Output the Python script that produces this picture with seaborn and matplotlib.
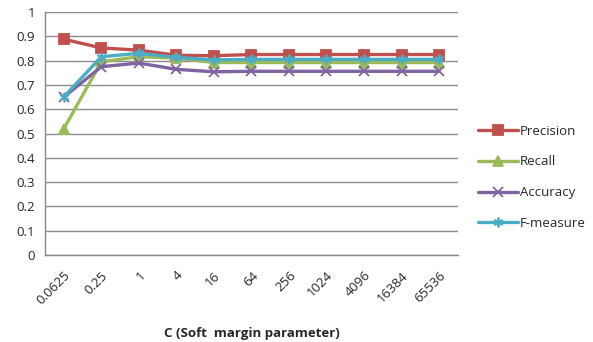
import numpy as np
import pandas as pd
import matplotlib
matplotlib.use("Agg")
import matplotlib.pyplot as plt
import seaborn as sns

# Chart data
c_values = ["0.0625", "0.25", "1", "4", "16", "64", "256", "1024", "4096", "16384", "65536"]
precision = [0.888, 0.852, 0.843, 0.822, 0.820, 0.825, 0.825, 0.825, 0.825, 0.825, 0.825]
recall = [0.52, 0.795, 0.816, 0.81, 0.792, 0.792, 0.792, 0.792, 0.792, 0.792, 0.792]
accuracy = [0.65, 0.775, 0.79, 0.764, 0.754, 0.756, 0.756, 0.756, 0.756, 0.756, 0.756]
f_measure = [0.651, 0.816, 0.83, 0.813, 0.803, 0.805, 0.805, 0.805, 0.805, 0.805, 0.805]

series = {"Precision": precision, "Recall": recall, "Accuracy": accuracy, "F-measure": f_measure}
colors = {"Precision": "#C0504D", "Recall": "#9BBB59", "Accuracy": "#8064A2", "F-measure": "#4BACC6"}
markers = {"Precision": "s", "Recall": "^", "Accuracy": "x", "F-measure": (6, 2, 0)}

df = pd.DataFrame(
    [(c, name, v) for name, vals in series.items() for c, v in zip(c_values, vals)],
    columns=["C", "Metric", "Value"],
)

sns.set_style("white")
plt.rcParams["font.family"] = ["Open Sans", "DejaVu Sans"]

fig = plt.figure(figsize=(5.93, 3.42), dpi=100)
ax = fig.add_axes([0.076, 0.254, 0.696, 0.711])

for name in series:
    sub = df[df["Metric"] == name]
    sns.lineplot(
        data=sub, x="C", y="Value", ax=ax, color=colors[name], marker=markers[name],
        markersize=7, markeredgewidth=1.3, markeredgecolor=colors[name],
        linewidth=2.4, label=name, sort=False,
    )

ax.set_xlim(-0.5, len(c_values) - 0.5)
ax.set_ylim(0, 1)
ax.set_yticks(np.arange(0, 1.01, 0.1))
ax.set_yticklabels(["0"] + [f"{v:.1f}" for v in np.arange(0.1, 0.95, 0.1)] + ["1"], fontsize=9.5)
ax.set_xticks(range(len(c_values)))
ax.set_xticklabels(c_values, rotation=45, ha="right", rotation_mode="anchor", fontsize=9.5)
ax.set_xticks(np.arange(-0.5, len(c_values), 1), minor=True)
ax.tick_params(axis="x", which="major", length=0, pad=10)
ax.tick_params(axis="x", which="minor", length=4, color="#888888", width=1, direction="out")
ax.tick_params(axis="y", length=4, color="#888888", width=1, direction="out", pad=3)
ax.yaxis.grid(True, color="#8c8c8c", linewidth=1)
ax.set_axisbelow(True)
for side in ["top", "right"]:
    ax.spines[side].set_visible(False)
for side in ["left", "bottom"]:
    ax.spines[side].set_color("#888888")
    ax.spines[side].set_linewidth(1)

ax.set_xlabel("C (Soft  margin parameter)", fontsize=9.5, fontweight="bold", labelpad=14)
ax.set_ylabel("")

ax.legend(
    loc="center left", bbox_to_anchor=(1.02, 0.32), frameon=False, fontsize=9.5,
    handlelength=3.0, labelspacing=1.35, handletextpad=0.2,
)

fig.savefig("out.png", dpi=100)
